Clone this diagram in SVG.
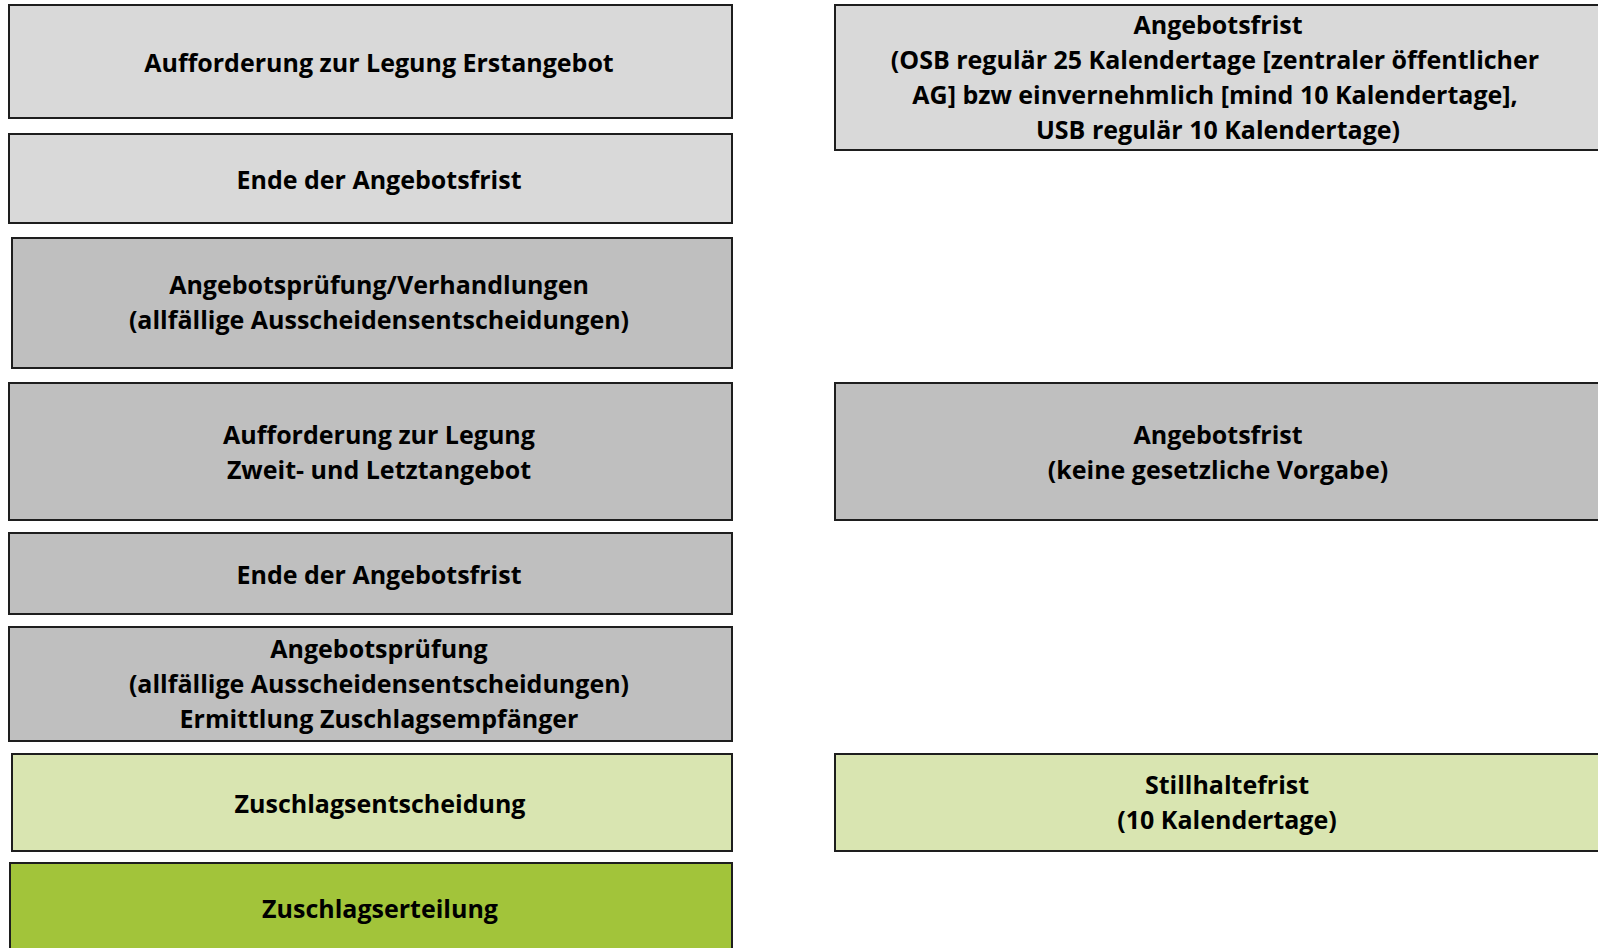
<svg xmlns="http://www.w3.org/2000/svg" width="1598" height="948" viewBox="0 0 1598 948">
<style>
.b{stroke:#1e1e1e;stroke-width:2}
.g1{fill:#D9D9D9}
.g2{fill:#BFBFBF}
.lg{fill:#D9E5B1}
.dg{fill:#A2C43A}
text{font-family:"Open Sans","Liberation Sans",sans-serif;font-weight:bold;font-size:25px;fill:#000;text-anchor:middle}
</style>
<rect width="1598" height="948" fill="#fff"/>
<g id="n1"><rect class="b g1" x="9" y="5" width="723" height="113"/><text x="379" y="72">Aufforderung zur Legung Erstangebot</text></g>
<g id="n2"><rect class="b g1" x="9" y="134" width="723" height="89"/><text x="379" y="189">Ende der Angebotsfrist</text></g>
<g id="n3"><rect class="b g2" x="12" y="238" width="720" height="130"/><text x="379" y="294">Angebotsprüfung/Verhandlungen</text><text x="379" y="329">(allfällige Ausscheidensentscheidungen)</text></g>
<g id="n4"><rect class="b g2" x="9" y="383" width="723" height="137"/><text x="379" y="444">Aufforderung zur Legung</text><text x="379" y="479">Zweit- und Letztangebot</text></g>
<g id="n5"><rect class="b g2" x="9" y="533" width="723" height="81"/><text x="379" y="584">Ende der Angebotsfrist</text></g>
<g id="n6"><rect class="b g2" x="9" y="627" width="723" height="114"/><text x="379" y="658">Angebotsprüfung</text><text x="379" y="693">(allfällige Ausscheidensentscheidungen)</text><text x="379" y="728">Ermittlung Zuschlagsempfänger</text></g>
<g id="n7"><rect class="b lg" x="12" y="754" width="720" height="97"/><text x="380" y="813">Zuschlagsentscheidung</text></g>
<g id="n8"><rect class="b dg" x="10" y="863" width="722" height="100"/><text x="380" y="918">Zuschlagserteilung</text></g>
<g id="r1"><rect class="b g1" x="835" y="5" width="780" height="145"/><text x="1218" y="34">Angebotsfrist</text><text x="1215" y="69">(OSB regulär 25 Kalendertage [zentraler öffentlicher</text><text x="1215" y="104">AG] bzw einvernehmlich [mind 10 Kalendertage],</text><text x="1218" y="139">USB regulär 10 Kalendertage)</text></g>
<g id="r2"><rect class="b g2" x="835" y="383" width="780" height="137"/><text x="1218" y="444">Angebotsfrist</text><text x="1218" y="479">(keine gesetzliche Vorgabe)</text></g>
<g id="r3"><rect class="b lg" x="835" y="754" width="780" height="97"/><text x="1227" y="794">Stillhaltefrist</text><text x="1227" y="829">(10 Kalendertage)</text></g>
<g id="connectors"/>
</svg>
